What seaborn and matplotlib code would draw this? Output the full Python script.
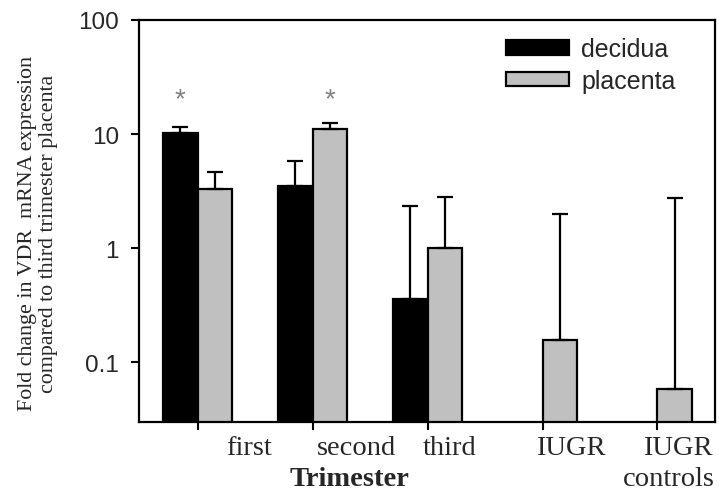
import numpy as np
import pandas as pd
import matplotlib
matplotlib.use("Agg")
import matplotlib.pyplot as plt
import matplotlib.transforms as mtransforms
from matplotlib.patches import Patch
import seaborn as sns

# data
groups = ["first", "second", "third", "IUGR", "IUGR controls"]
group_labels = ["first", "second", "third", "IUGR", "IUGR", "controls"]
decidua = [10.2, 3.5, 0.36, np.nan, np.nan]
decidua_upper = [11.6, 5.8, 2.34, np.nan, np.nan]
placenta = [3.3, 11.0, 1.0, 0.157, 0.058]
placenta_upper = [4.6, 12.4, 2.82, 1.99, 2.76]
star_groups = ["first", "second"]
star_tissue = ["decidua", "placenta"]
star_level = 20

sns.set_style("ticks")
plt.rcParams["font.family"] = ["Liberation Serif", "DejaVu Serif"]

df = pd.DataFrame({
    "group": groups * 2,
    "tissue": ["decidua"] * 5 + ["placenta"] * 5,
    "value": decidua + placenta,
}).dropna()

fig = plt.figure(figsize=(7.19, 5.02), dpi=100)
ax = fig.add_axes([0.1933, 0.158, 0.8011, 0.8002])
ax.set_yscale("log")

palette = {"decidua": "black", "placenta": "#c0c0c0"}
sns.barplot(data=df, x="group", y="value", hue="tissue", order=groups,
            hue_order=["decidua", "placenta"], palette=palette, width=0.6,
            edgecolor="black", linewidth=1.6, saturation=1, errorbar=None,
            legend=False, ax=ax)

# one-sided error bars on top of each bar
uppers = {"decidua": [u for u in decidua_upper if not np.isnan(u)],
          "placenta": placenta_upper}
bar_pos = {}
for cont, tissue in zip(ax.containers, ["decidua", "placenta"]):
    xs = [b.get_x() + b.get_width() / 2 for b in cont]
    hs = [b.get_height() for b in cont]
    up = uppers[tissue]
    ax.errorbar(xs, hs, yerr=[np.zeros(len(hs)), np.array(up) - np.array(hs)],
                fmt="none", ecolor="black", elinewidth=1.6, capsize=6,
                capthick=1.6, zorder=1)
    bar_pos[tissue] = xs

# significance asterisks
for g, t in zip(star_groups, star_tissue):
    x = bar_pos[t][groups.index(g)]
    ax.text(x, star_level, "*", ha="center", va="center", fontsize=20,
            color="#808080", fontfamily="Liberation Sans")

ax.set_ylim(0.03, 100)
ax.set_xlim(-0.51, 4.5)
ax.set_yticks([0.1, 1, 10, 100])
ax.set_yticklabels(["0.1", "1", "10", "100"], fontfamily="Liberation Sans",
                   fontsize=17.5)
ax.yaxis.set_minor_locator(matplotlib.ticker.NullLocator())
ax.set_xticks(range(len(groups)))
ax.set_xticklabels([""] * len(groups))
ax.tick_params(axis="both", direction="out", length=6, width=1.5,
               color="black")
ax.tick_params(axis="y", pad=8.5)

# category labels sit to the right of the tick marks
trans = mtransforms.blended_transform_factory(ax.transData, ax.transAxes)
label_x = [0.45, 1.38, 2.19, 3.25, 4.18, 4.1]
label_y = [-0.032, -0.032, -0.032, -0.032, -0.032, -0.11]
for x, y, lab in zip(label_x, label_y, group_labels):
    ax.text(x, y, lab, transform=trans, ha="center", va="top", fontsize=20.5)

ax.set_xlabel("Trimester", fontsize=20.5, fontweight="bold")
ax.xaxis.set_label_coords(0.366, -0.11)
ax.set_ylabel("Fold change in VDR  mRNA expression\ncompared to third trimester placenta",
              fontsize=15.8, linespacing=1.2)
ax.yaxis.set_label_coords(-0.14, 0.47)

for s in ax.spines.values():
    s.set_visible(True)
    s.set_linewidth(1.6)
    s.set_color("black")

handles = [Patch(facecolor="black", edgecolor="black", linewidth=1.6, label="decidua"),
           Patch(facecolor="#c0c0c0", edgecolor="black", linewidth=1.6, label="placenta")]
ax.legend(handles=handles, loc="upper right", bbox_to_anchor=(0.962, 1.0),
          frameon=False, prop={"family": "Liberation Sans", "size": 18},
          handlelength=2.5, handleheight=0.5, handletextpad=0.5,
          labelspacing=0.3, borderpad=0.2)

fig.savefig("out.png", dpi=100, facecolor="white")
